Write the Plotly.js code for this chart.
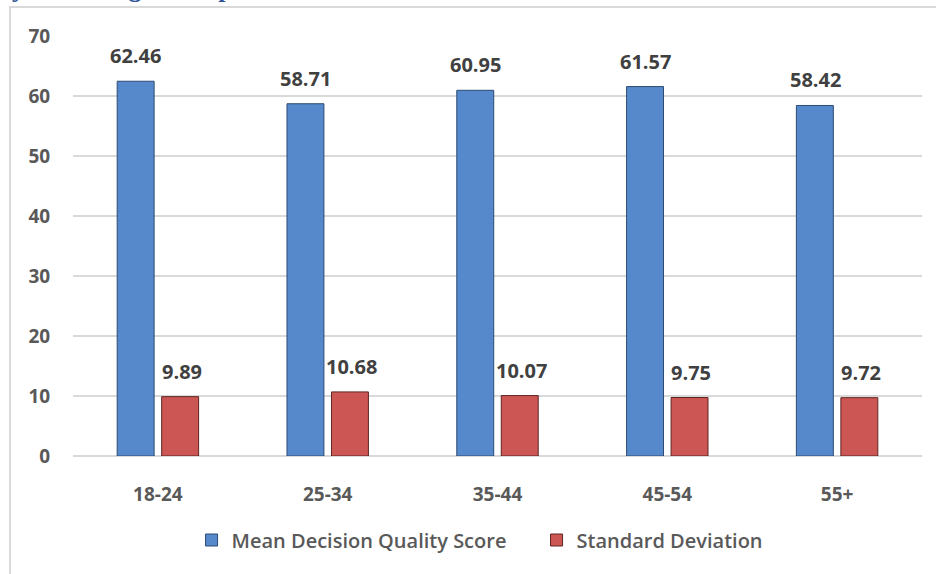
<!DOCTYPE html>
<html>
<head>
<meta charset="utf-8">
<script src="https://cdn.plot.ly/plotly-3.0.1.min.js"></script>
<style>
  html, body { margin: 0; padding: 0; background: #ffffff; overflow: hidden; }
  #wrap { position: relative; width: 936px; height: 574px; }
  #chart { position: absolute; left: 0; top: 0; width: 936px; height: 574px; }
  #frame { position: absolute; left: 9px; top: 6px; width: 960px; height: 600px;
           border-left: 2px solid #d9d9d9; border-top: 2px solid #d9d9d9; pointer-events: none; }
</style>
</head>
<body>
<div id="wrap">
  <div id="chart"></div>
  <div id="frame"></div>
</div>
<script>
const categories = ["18-24", "25-34", "35-44", "45-54", "55+"];
const meanScores = [62.46, 58.71, 60.95, 61.57, 58.42];
const stdDevs = [9.89, 10.68, 10.07, 9.75, 9.72];
const seriesNames = ["Mean Decision Quality Score", "Standard Deviation"];
const yTicks = [0, 10, 20, 30, 40, 50, 60, 70];
const titleText = "y Across Age Groups";

const FONT = "'Open Sans', 'Noto Sans', sans-serif";

const traces = [
  {
    type: "bar", name: seriesNames[0], x: categories, y: meanScores,
    marker: { color: "#5689cb", line: { color: "#2c4a72", width: 1 } },
    hoverinfo: "skip"
  },
  {
    type: "bar", name: seriesNames[1], x: categories, y: stdDevs,
    marker: { color: "#cc5654", line: { color: "#5e2422", width: 1 } },
    hoverinfo: "skip"
  }
];

const annotations = [];
categories.forEach((c, i) => {
  annotations.push({ x: c, y: meanScores[i], xref: "x", yref: "y", text: meanScores[i].toFixed(2),
    showarrow: false, xshift: -22, yshift: 10, yanchor: "bottom",
    font: { family: FONT, size: 20, color: "#404040", weight: "bold" } });
  annotations.push({ x: c, y: stdDevs[i], xref: "x", yref: "y", text: stdDevs[i].toFixed(2),
    showarrow: false, xshift: 24, yshift: 10, yanchor: "bottom",
    font: { family: FONT, size: 20, color: "#404040", weight: "bold" } });
});
annotations.push({ x: -0.074, y: 1.074, xref: "paper", yref: "paper", xanchor: "left", yanchor: "bottom",
  text: titleText, showarrow: false,
  font: { family: "'Liberation Serif', serif", size: 26, color: "#2e5597", weight: "bold" } });

const layout = {
  width: 936, height: 574,
  margin: { l: 73, r: 14, t: 36, b: 118 },
  paper_bgcolor: "#ffffff", plot_bgcolor: "#ffffff",
  barmode: "group", bargap: 0.476, bargroupgap: 0.17,
  showlegend: true,
  legend: { orientation: "h", x: 0.546, xanchor: "center", y: -0.2, yanchor: "middle",
    entrywidth: 300, entrywidthmode: "pixels",
    font: { family: FONT, size: 20, color: "#595959", weight: 600 }, itemwidth: 30, tracegroupgap: 0 },
  xaxis: {
    type: "category", showgrid: false, zeroline: false, showline: false,
    ticks: "outside", ticklen: 21, tickcolor: "rgba(0,0,0,0)",
    tickfont: { family: FONT, size: 19, color: "#595959", weight: "bold" }
  },
  yaxis: {
    range: [0, 70], tickvals: yTicks, showgrid: true, gridcolor: "#d9d9d9", gridwidth: 2,
    zeroline: true, zerolinecolor: "#d9d9d9", zerolinewidth: 2, showline: false,
    ticks: "outside", ticklen: 18, tickcolor: "rgba(0,0,0,0)",
    tickfont: { family: FONT, size: 19, color: "#595959", weight: "bold" }
  },
  annotations: annotations
};

Plotly.newPlot("chart", traces, layout, { displayModeBar: false, staticPlot: true });
</script>
</body>
</html>
